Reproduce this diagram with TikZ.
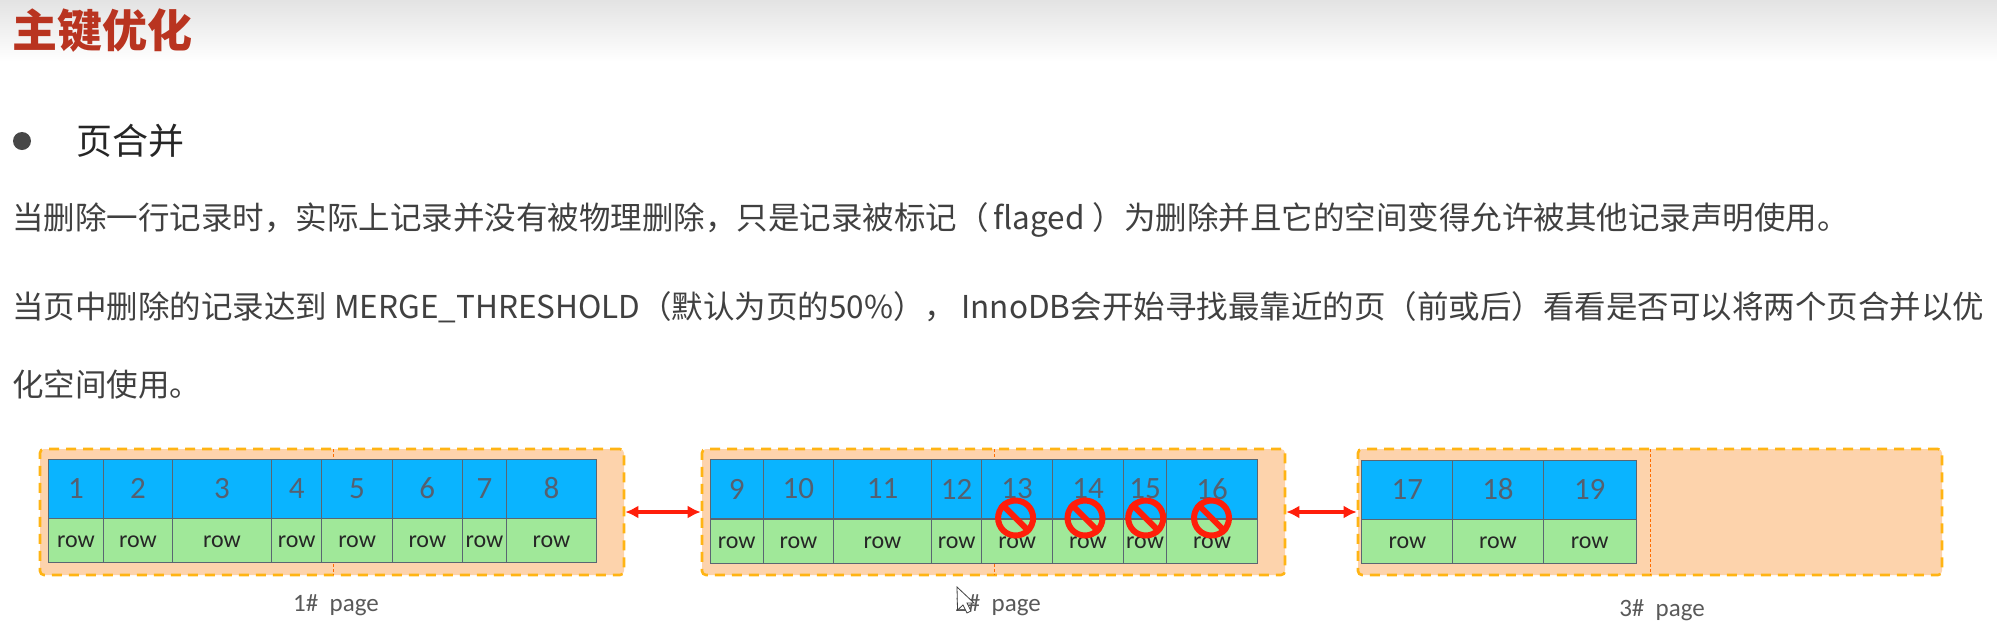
\documentclass[tikz,border=0pt]{standalone}
\usepackage{fontspec}
\setmainfont{Carlito}
\newfontfamily\cjk{Noto Sans CJK SC}
\usetikzlibrary{arrows.meta, positioning}
\definecolor{titlered}{HTML}{B93420}
\definecolor{bodygray}{HTML}{404040}
\definecolor{pagefill}{HTML}{FDD3AC}
\definecolor{pageedge}{HTML}{FFB414}
\definecolor{keyblue}{HTML}{0AB4FF}
\definecolor{rowgreen}{HTML}{A0E899}
\definecolor{celledge}{HTML}{5A6672}
\definecolor{numgray}{HTML}{556070}
\definecolor{banred}{HTML}{FF1E0A}
\newcommand{\wcomma}{\char"FF0C\relax}
\newcommand{\wopen}{\char"FF08\relax}
\newcommand{\wclose}{\char"FF09\relax}

\begin{document}
\begin{tikzpicture}[x=1pt, y=-1pt,
            titletxt/.style={anchor=west, inner sep=0pt, text=titlered, font=\cjk\bfseries\fontsize{45}{50}\selectfont},
            headtxt/.style={anchor=west, inner sep=0pt, text=black!85, font=\cjk\fontsize{36}{40}\selectfont},
            bodytxt/.style={anchor=west, inner sep=0pt, text=bodygray, font=\cjk\fontsize{31.5}{37}\selectfont},
            pagebox/.style={draw=pageedge, fill=pagefill, line width=2.6pt, dash pattern=on 10pt off 7pt, rounded corners=4pt, inner sep=0pt, minimum height=126pt},
            splitline/.style={draw=orange!85!red, densely dashed, line width=0.6pt},
            keycell/.style={draw=celledge, fill=keyblue, line width=1pt, inner sep=0pt, minimum height=59pt, text=numgray, font=\fontsize{31}{36}\selectfont},
            rowcell/.style={draw=celledge, fill=rowgreen, line width=1pt, inner sep=0pt, minimum height=44pt, text height=15pt, text depth=0pt, text=black!85, font=\fontsize{24}{28}\selectfont},
            pagetxt/.style={inner sep=0pt, text=black!65, font=\fontsize{25}{30}\selectfont},
            link/.style={draw=banred, line width=3.6pt, {Latex[length=13pt,width=13pt]}-{Latex[length=13pt,width=13pt]}},
            ban/.style={circle, draw=banred, line width=6pt, minimum size=35pt, inner sep=0pt},
            banbar/.style={draw=banred, line width=6pt}]
    \useasboundingbox (0,0) rectangle (1997,630);
    \fill[top color=black!11, bottom color=white, draw=none] (0,0) rectangle (1997,62);

    \node[titletxt] (title) at (12,31) {主键优化};
    \fill[black!72] (22,141) circle (9);
    \node[headtxt] (head) at (76,141) {页合并};
    \node[bodytxt] (line1) at (12,220) {当删除一行记录时\wcomma 实际上记录并没有被物理删除\wcomma 只是记录被标记\wopen\hspace{5pt}flaged\hspace{8pt}\wclose 为删除并且它的空间变得允许被其他记录声明使用。};
    \node[bodytxt] (line2) at (12,307) {当页中删除的记录达到 MERGE\_THRESHOLD\wopen 默认为页的50\%\wclose\wcomma\hspace{5pt}InnoDB会开始寻找最靠近的页\wopen 前或后\wclose 看看是否可以将两个页合并以优};
    \node[bodytxt] (line3) at (12,385) {化空间使用。};

    \node[pagebox, minimum width=584pt] (page1) at (332,512) {};
    \node[pagebox, minimum width=583pt] (page2) at (993.5,512) {};
    \node[pagebox, minimum width=584pt] (page3) at (1650,512) {};
    \draw[splitline] (333,449) -- (333,575);
    \draw[splitline] (994,449) -- (994,575);
    \draw[splitline] (1650,449) -- (1650,575);

    \foreach \n/\xa/\xb in {1/48.6/103.2, 2/103.2/172.6, 3/172.6/271.5, 4/271.5/321.8,
                            5/321.8/392.4, 6/392.4/462.3, 7/462.3/506.5, 8/506.5/596.3} {
        \node[keycell, minimum width={\xb-\xa}] (key\n) at ({(\xa+\xb)/2},488.5) {\n};
        \node[rowcell, minimum width={\xb-\xa}] (row\n) at ({(\xa+\xb)/2},540) {row};
    }
    \foreach \n/\xa/\xb in {9/710/763.2, 10/763.2/833.5, 11/833.5/931.5, 12/931.5/981.8,
                            13/981.8/1052.4, 14/1052.4/1123.6, 15/1123.6/1166.5, 16/1166.5/1257.6} {
        \node[keycell, minimum width={\xb-\xa}] (key\n) at ({(\xa+\xb)/2},489) {\n};
        \node[rowcell, minimum width={\xb-\xa}] (row\n) at ({(\xa+\xb)/2},541) {row};
    }
    \foreach \n/\xa/\xb in {17/1361.8/1452.9, 18/1452.9/1543, 19/1543/1636.4} {
        \node[keycell, minimum width={\xb-\xa}] (key\n) at ({(\xa+\xb)/2},489.5) {\n};
        \node[rowcell, minimum width={\xb-\xa}] (row\n) at ({(\xa+\xb)/2},541) {row};
    }

    \foreach \n/\x in {13/1015.6, 14/1085, 15/1145.7, 16/1211.5} {
        \node[ban] (ban\n) at (\x,518) {};
        \draw[banbar] (ban\n.north west) -- (ban\n.south east);
    }

    \draw[link] (page1) -- (page2);
    \draw[link] (page2) -- (page3);

    \node[pagetxt] (label1) at (336,605) {1\#\ \ page};
    \node[pagetxt] (label2) at (998,605) {2\#\ \ page};
    \node[pagetxt] (label3) at (1662,610) {3\#\ \ page};

    \draw[black!75, fill=white, line width=0.8pt] (957,587) -- (957.5,610) -- (963,605) -- (967,613) -- (971,611) -- (967,603) -- (974,603) -- cycle;
\end{tikzpicture}
\end{document}
